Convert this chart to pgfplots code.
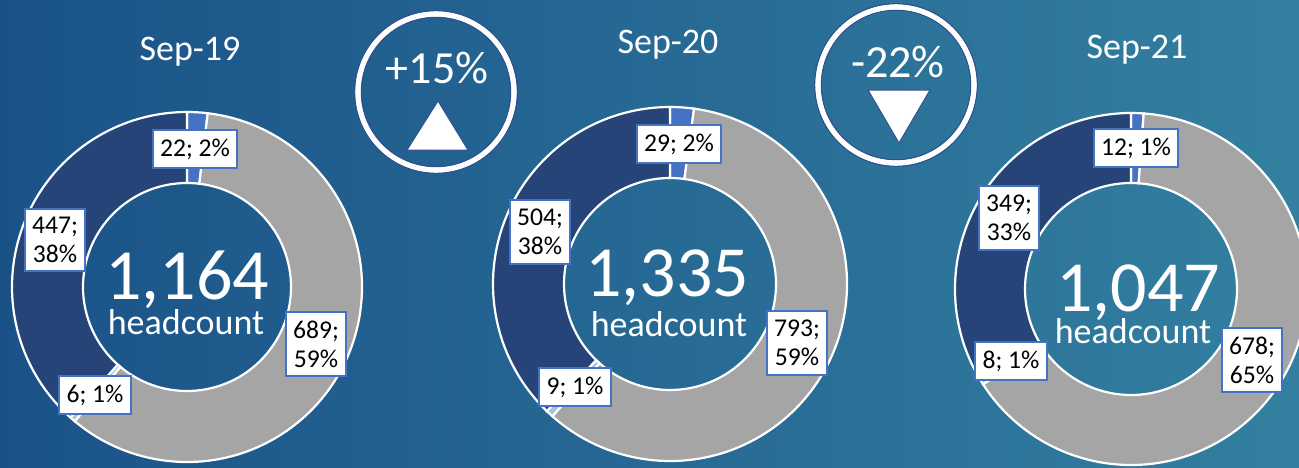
\documentclass[border=0pt]{standalone}
\usepackage{pgfplots}
\usepackage{pgfplotstable}
\pgfplotsset{compat=1.18}
\usepackage{fontspec}
\setmainfont{Carlito}

\definecolor{bgL}{RGB}{26,82,136}
\definecolor{bgR}{RGB}{51,128,160}
\definecolor{segA}{HTML}{4472C4}
\definecolor{segB}{HTML}{A5A5A5}
\definecolor{segC}{HTML}{9DC3E6}
\definecolor{segD}{HTML}{264478}
\definecolor{lblEdge}{HTML}{4472C4}
\definecolor{ringEdge}{HTML}{2F4F8F}

% headcount by group, in the order Excel draws them (clockwise from 12 o'clock)
\pgfplotstableread{
v c
22 segA
689 segB
6 segC
447 segD
}\sepNineteen
\pgfplotstableread{
v c
29 segA
793 segB
9 segC
504 segD
}\sepTwenty
\pgfplotstableread{
v c
12 segA
678 segB
8 segC
349 segD
}\sepTwentyOne

% \donut{table}{cx}{cy}{outer r}{inner r}  -- all in axis units (1 unit = 0.5pt)
\newcommand\donut[5]{%
  \pgfplotstablegetrowsof{#1}\pgfmathtruncatemacro\dnLast{\pgfplotsretval-1}%
  \gdef\dnTot{0}%
  \foreach \k in {0,...,\dnLast}{%
    \pgfplotstablegetelem{\k}{v}\of{#1}%
    \pgfmathsetmacro\dnTmp{\dnTot+\pgfplotsretval}\xdef\dnTot{\dnTmp}}%
  \gdef\dnCum{0}%
  \foreach \k in {0,...,\dnLast}{%
    \pgfplotstablegetelem{\k}{v}\of{#1}\let\segval\pgfplotsretval
    \pgfplotstablegetelem{\k}{c}\of{#1}\let\segcol\pgfplotsretval
    \pgfmathsetmacro\fracA{\dnCum/\dnTot}%
    \pgfmathsetmacro\fracB{(\dnCum+\segval)/\dnTot}%
    \pgfmathsetmacro\angA{90-360*\fracA}%
    \pgfmathsetmacro\angB{90-360*\fracB}%
    \pgfmathsetmacro\xo{#2+#4*cos(\angA)}\pgfmathsetmacro\yo{#3+#4*sin(\angA)}%
    \pgfmathsetmacro\xi{#2+#5*cos(\angB)}\pgfmathsetmacro\yi{#3+#5*sin(\angB)}%
    \edef\dnCmd{\noexpand\fill[\segcol, draw=white, line width=1.1pt]
      (axis cs:\xo,\yo) arc[start angle=\angA, end angle=\angB, radius=#4*0.5pt]
      -- (axis cs:\xi,\yi) arc[start angle=\angB, end angle=\angA, radius=#5*0.5pt] -- cycle;}%
    \dnCmd
    \pgfmathsetmacro\dnTmp{\dnCum+\segval}\xdef\dnCum{\dnTmp}}%
}

\tikzset{
  lbl/.style={fill=white, draw=lblEdge, line width=1pt, text=black,
    font=\fontsize{12.8}{14.5}\selectfont, inner xsep=3.6pt, inner ysep=4.3pt, align=center},
  ttl/.style={text=white, font=\fontsize{18}{20}\selectfont},
  big/.style={text=white, anchor=base, inner sep=0pt, font=\fontsize{36}{38}\selectfont},
  hc/.style={text=white, anchor=base, inner sep=0pt, font=\fontsize{18}{20}\selectfont},
}

\begin{document}
\begin{tikzpicture}
\begin{axis}[
    name=ax,
    hide axis,
    x=0.5pt, y=0.5pt,
    xmin=0, xmax=1299, ymin=0, ymax=467,
    enlargelimits=false,
]
% background
\fill[left color=bgL, right color=bgR] (axis cs:0,0) rectangle (axis cs:1299,467);

% doughnuts
\donut{\sepNineteen}{187}{180}{175}{104}
\donut{\sepTwenty}{670}{183}{177}{106}
\donut{\sepTwentyOne}{1131}{178}{176}{106}

% titles
\node[ttl] at (axis cs:190,415) {Sep-19};
\node[ttl] at (axis cs:668,422) {Sep-20};
\node[ttl] at (axis cs:1137,417) {Sep-21};

% totals
\node[big] at (axis cs:187,168) {1,164};
\node[hc] at (axis cs:186,133) {headcount};
\node[big] at (axis cs:667,171) {1,335};
\node[hc] at (axis cs:669,131) {headcount};
\node[big] at (axis cs:1138,156) {1,047};
\node[hc] at (axis cs:1133,124) {headcount};

% change indicators
\draw[white, line width=3pt] (axis cs:436,375) circle[radius=78*0.5pt];
\draw[ringEdge, line width=0.5pt] (axis cs:436,375) circle[radius=81.3*0.5pt];
\draw[ringEdge, line width=0.5pt] (axis cs:436,375) circle[radius=74.7*0.5pt];
\node[text=white, font=\fontsize{23}{25}\selectfont] at (axis cs:437,399) {+15\%};
\fill[white, draw=ringEdge, line width=0.5pt] (axis cs:407,317) -- (axis cs:468,317) -- (axis cs:438,366) -- cycle;

\draw[white, line width=3pt] (axis cs:896,382) circle[radius=78*0.5pt];
\draw[ringEdge, line width=0.5pt] (axis cs:896,382) circle[radius=81.3*0.5pt];
\draw[ringEdge, line width=0.5pt] (axis cs:896,382) circle[radius=74.7*0.5pt];
\node[text=white, font=\fontsize{23}{25}\selectfont] at (axis cs:898,405) {-22\%};
\fill[white, draw=ringEdge, line width=0.5pt] (axis cs:868,377) -- (axis cs:930,377) -- (axis cs:899,324) -- cycle;

% data labels
\node[lbl] at (axis cs:195,318) {22; 2\%};
\node[lbl] at (axis cs:55,227) {447;\\38\%};
\node[lbl] at (axis cs:316,123) {689;\\59\%};
\node[lbl] at (axis cs:95,72) {6; 1\%};

\node[lbl] at (axis cs:679,323) {29; 2\%};
\node[lbl] at (axis cs:540,235) {504;\\38\%};
\node[lbl] at (axis cs:797,124) {793;\\59\%};
\node[lbl] at (axis cs:575,80) {9; 1\%};

\node[lbl] at (axis cs:1136,319) {12; 1\%};
\node[lbl] at (axis cs:1009,249) {349;\\33\%};
\node[lbl] at (axis cs:1252,107) {678;\\65\%};
\node[lbl] at (axis cs:1011,106) {8; 1\%};
\end{axis}
\pgfresetboundingbox
\useasboundingbox (ax.south west) rectangle (ax.north east);
\end{tikzpicture}
\end{document}
